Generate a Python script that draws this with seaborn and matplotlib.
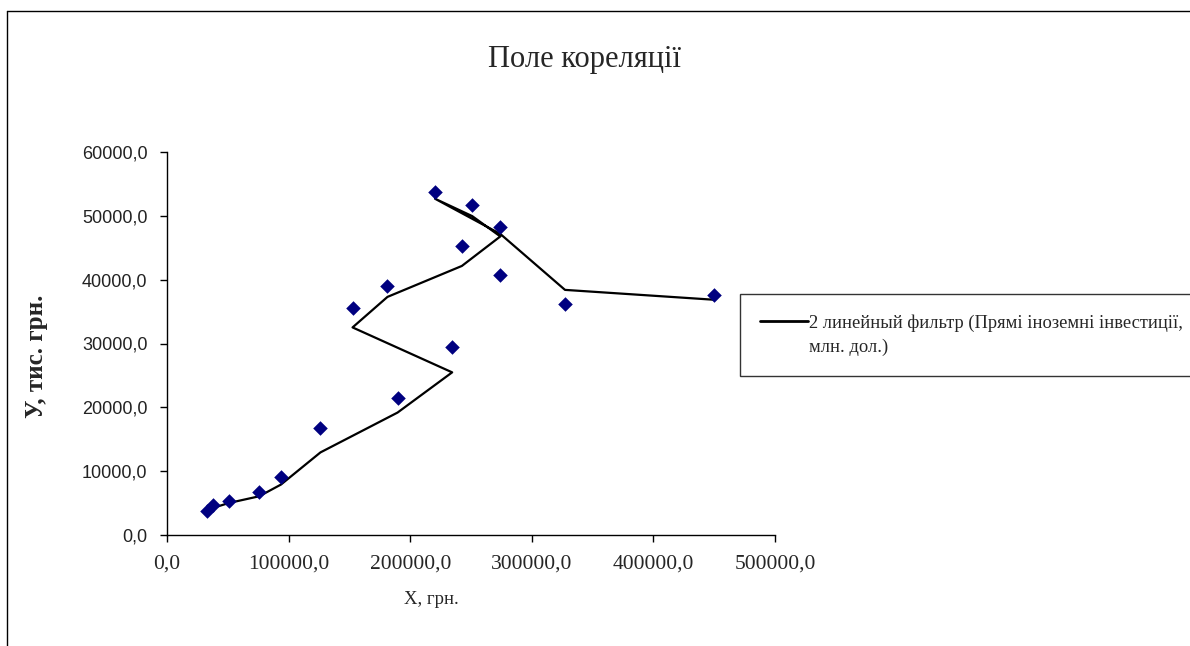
import matplotlib
matplotlib.use("Agg")
import matplotlib.pyplot as plt
from matplotlib.lines import Line2D
import numpy as np
import pandas as pd
import seaborn as sns

# data, in the order it was entered (moving average follows this order)
x_vals = [32500, 37500, 51000, 75800, 93700, 126200, 189600, 234500, 152600,
          181300, 242500, 274100, 251000, 220400, 274100, 327300, 450200]
y_vals = [3800, 4650, 5390, 6740, 9060, 16820, 21540, 29420, 35620,
          38980, 45320, 48220, 51690, 53670, 40660, 36140, 37560]
x_ticks = [0, 100000, 200000, 300000, 400000, 500000]
y_ticks = [0, 10000, 20000, 30000, 40000, 50000, 60000]
legend_line1 = "2 линейный фильтр (Прямі іноземні інвестиції,"
legend_line2 = "млн. дол.)"

df = pd.DataFrame({"x": x_vals, "y": y_vals})
# Excel's 2-period moving average on a scatter: y averaged, x of later point
ma = pd.DataFrame({"x": df["x"], "y": df["y"].rolling(2).mean()}).dropna()

sns.set_style("white")
plt.rcParams["font.family"] = ["Liberation Serif", "DejaVu Serif"]

fig = plt.figure(figsize=(11.9, 6.46), dpi=100)
ax = fig.add_axes([167 / 1190, 1 - 535 / 646, (775 - 167) / 1190, (535 - 152) / 646])

sns.scatterplot(data=df, x="x", y="y", marker="D", s=55, color="#000080",
                linewidth=0, ax=ax, zorder=3)
sns.lineplot(data=ma, x="x", y="y", sort=False, estimator=None, color="black",
             linewidth=1.6, ax=ax, zorder=2)

ax.set_xlim(0, 500000)
ax.set_ylim(0, 60000)
ax.set_xticks(x_ticks)
ax.set_yticks(y_ticks)
ax.set_xticklabels([f"{t},0" for t in x_ticks], fontsize=15.5)
ax.set_yticklabels([f"{t},0" for t in y_ticks], fontsize=13,
                   family="Liberation Sans", color="#222222")
ax.tick_params(axis="both", direction="out", length=5, width=1, color="black", pad=9)
ax.tick_params(axis="x", bottom=True)
ax.tick_params(axis="y", left=True)
for side in ["top", "right"]:
    ax.spines[side].set_visible(False)
for side in ["left", "bottom"]:
    ax.spines[side].set_color("black")
    ax.spines[side].set_linewidth(1)

ax.set_xlabel("Х, грн.", fontsize=13.5)
ax.xaxis.set_label_coords((431 - 167) / 608, (535 - 600) / 383)
ax.xaxis.label.set_va("center")
ax.set_ylabel("У, тис. грн.", fontsize=18, fontweight="bold")
ax.yaxis.set_label_coords((36 - 167) / 608, (535 - 356) / 383)
ax.yaxis.label.set_va("center")

fig.text(584 / 1190, 1 - 59 / 646, "Поле кореляції", fontsize=22,
         ha="center", va="center")

# legend: line handle on the first text line, wrapped text on the second row
handles = [Line2D([], [], color="black", linewidth=2),
           Line2D([], [], color="none")]
leg = ax.legend(handles, [legend_line1, legend_line2], loc="upper left",
                bbox_to_anchor=(740 / 1190, 1 - 294 / 646),
                bbox_transform=fig.transFigure, frameon=True, fancybox=False,
                fontsize=13.3, handlelength=2.6, borderpad=1.1, labelspacing=0.35,
                handletextpad=0.05, borderaxespad=0)
leg.get_frame().set_edgecolor("black")
leg.get_frame().set_linewidth(1)

# outer chart border (top and left visible)
fig.add_artist(Line2D([7 / 1190, 1], [1 - 11 / 646, 1 - 11 / 646],
                      transform=fig.transFigure, color="black", linewidth=1))
fig.add_artist(Line2D([7 / 1190, 7 / 1190], [0, 1 - 11 / 646],
                      transform=fig.transFigure, color="black", linewidth=1))

fig.savefig("out.png", dpi=100)
